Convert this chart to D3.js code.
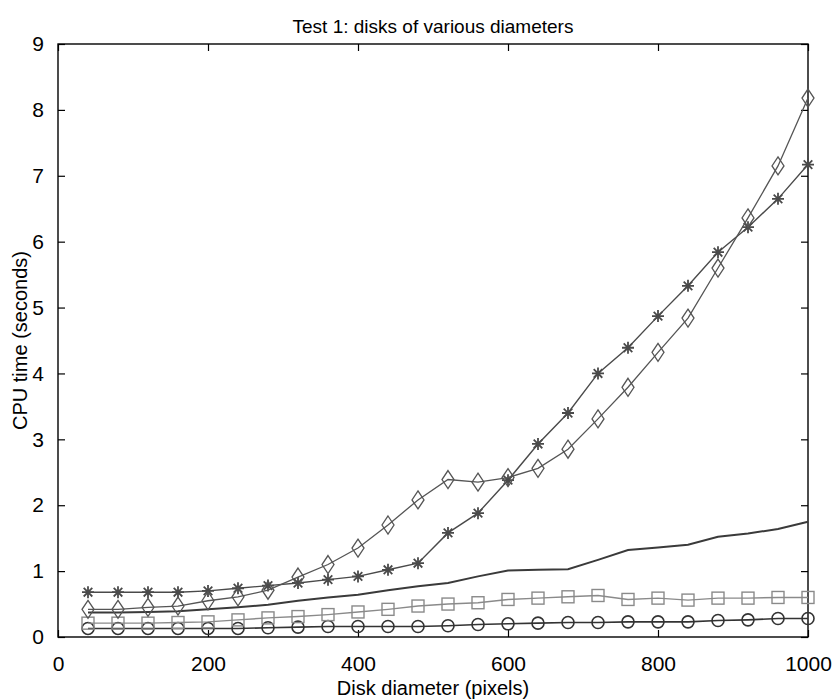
<!DOCTYPE html>
<html>
<head>
<meta charset="utf-8">
<script src="https://cdn.jsdelivr.net/npm/d3@7/dist/d3.min.js"></script>
<style>
	body { margin: 0; background: #fff; }
	svg { font-family: "Liberation Sans", Arial, sans-serif; }
	.c-plot__axis path, .c-plot__axis line { stroke: #000; stroke-width: 1.2; }
	.c-plot__axis text { font-size: 21px; fill: #000; }
</style>
</head>
<body>
<svg id="chart" width="837" height="700"></svg>
<script>
//Chart data
var diameters = [40, 80, 120, 160, 200, 240, 280, 320, 360, 400, 440, 480, 520, 560, 600, 640, 680, 720, 760, 800, 840, 880, 920, 960, 1000];
var starTimes = [0.68, 0.68, 0.68, 0.68, 0.70, 0.74, 0.78, 0.82, 0.87, 0.92, 1.02, 1.12, 1.58, 1.88, 2.38, 2.93, 3.40, 4.00, 4.39, 4.87, 5.33, 5.84, 6.22, 6.65, 7.17];
var diamondTimes = [0.42, 0.42, 0.45, 0.47, 0.55, 0.61, 0.71, 0.91, 1.10, 1.35, 1.70, 2.08, 2.39, 2.35, 2.42, 2.56, 2.85, 3.31, 3.79, 4.32, 4.84, 5.60, 6.36, 7.15, 8.18];
var plainTimes = [0.37, 0.37, 0.38, 0.39, 0.42, 0.45, 0.49, 0.55, 0.60, 0.64, 0.71, 0.77, 0.82, 0.92, 1.01, 1.02, 1.03, 1.17, 1.32, 1.36, 1.40, 1.52, 1.57, 1.64, 1.75];
var squareTimes = [0.21, 0.21, 0.21, 0.22, 0.23, 0.26, 0.29, 0.31, 0.34, 0.38, 0.42, 0.47, 0.50, 0.52, 0.57, 0.59, 0.61, 0.63, 0.57, 0.59, 0.56, 0.59, 0.59, 0.60, 0.60];
var circleTimes = [0.13, 0.13, 0.13, 0.13, 0.13, 0.13, 0.14, 0.15, 0.16, 0.16, 0.16, 0.16, 0.17, 0.19, 0.20, 0.21, 0.22, 0.22, 0.23, 0.23, 0.23, 0.25, 0.26, 0.28, 0.28];
var xTicks = [0, 200, 400, 600, 800, 1000];
var yTicks = [0, 1, 2, 3, 4, 5, 6, 7, 8, 9];

var series = [
	{name: "plain", values: plainTimes, marker: null, color: "#3a3a3a", width: 2},
	{name: "circle", values: circleTimes, marker: "circle", color: "#333", width: 1.6},
	{name: "square", values: squareTimes, marker: "square", color: "#8a8a8a", width: 1.4},
	{name: "star", values: starTimes, marker: "star", color: "#4a4a4a", width: 1.4},
	{name: "diamond", values: diamondTimes, marker: "diamond", color: "#555", width: 1.3}
];

var margin = {top: 44, right: 29, bottom: 63, left: 58},
	width = 837 - margin.left - margin.right,
	height = 700 - margin.top - margin.bottom;

var svg = d3.select("#chart");
var g = svg.append("g")
	.attr("transform", "translate(" + margin.left + "," + margin.top + ")");

var x = d3.scaleLinear().domain([0, 1000]).range([0, width]);
var y = d3.scaleLinear().domain([0, 9]).range([height, 0]);

//Axes with inward ticks on every side
g.append("g")
	.attr("class", "c-plot__axis")
	.attr("transform", "translate(0," + height + ")")
	.call(d3.axisBottom(x).tickValues(xTicks).tickFormat(d3.format("d")).tickSizeInner(-7).tickSizeOuter(0).tickPadding(19));
g.append("g")
	.attr("class", "c-plot__axis")
	.call(d3.axisTop(x).tickValues(xTicks).tickSizeInner(-7).tickSizeOuter(0).tickFormat(""));
g.append("g")
	.attr("class", "c-plot__axis")
	.call(d3.axisLeft(y).tickValues(yTicks).tickSizeInner(-7).tickSizeOuter(0).tickPadding(14));
g.append("g")
	.attr("class", "c-plot__axis")
	.attr("transform", "translate(" + width + ",0)")
	.call(d3.axisRight(y).tickValues(yTicks).tickSizeInner(-7).tickSizeOuter(0).tickFormat(""));

g.selectAll(".c-plot__axis .domain").remove();
g.append("rect")
	.attr("width", width)
	.attr("height", height)
	.attr("fill", "none")
	.attr("stroke", "#000")
	.attr("stroke-width", 1.4);

//Draw the series
var line = d3.line()
	.x(function(d, i){ return x(diameters[i]); })
	.y(function(d){ return y(d); });

series.forEach(function(s){
	g.append("path")
		.datum(s.values)
		.attr("fill", "none")
		.attr("stroke", s.color)
		.attr("stroke-width", s.width)
		.attr("d", line);

	if (!s.marker) return;

	var marks = g.selectAll(".c-plot__mark--" + s.name)
		.data(s.values)
		.enter().append("g")
		.attr("class", "c-plot__mark--" + s.name)
		.attr("transform", function(d, i){ return "translate(" + x(diameters[i]) + "," + y(d) + ")"; })
		.attr("fill", "none")
		.attr("stroke", s.color)
		.attr("stroke-width", s.width);

	if (s.marker === "circle"){
		marks.append("circle").attr("r", 6);
	}else if (s.marker === "square"){
		marks.append("rect").attr("x", -6).attr("y", -6).attr("width", 12).attr("height", 12);
	}else if (s.marker === "diamond"){
		marks.append("path").attr("d", "M0,-9L6,0L0,9L-6,0Z");
	}else if (s.marker === "star"){
		marks.append("path")
			.attr("stroke-width", 1.8)
			.attr("d", "M-6,0H6M0,-6V6M-4.3,-4.3L4.3,4.3M-4.3,4.3L4.3,-4.3");
	}
});

//Title and labels
svg.append("text")
	.attr("x", margin.left + width / 2)
	.attr("y", 33)
	.attr("text-anchor", "middle")
	.style("font-size", "19px")
	.text("Test 1: disks of various diameters");

svg.append("text")
	.attr("x", margin.left + width / 2)
	.attr("y", 695)
	.attr("text-anchor", "middle")
	.style("font-size", "20px")
	.text("Disk diameter (pixels)");

svg.append("text")
	.attr("transform", "translate(27," + (margin.top + height / 2) + ") rotate(-90)")
	.attr("text-anchor", "middle")
	.style("font-size", "20px")
	.text("CPU time (seconds)");
</script>
</body>
</html>
